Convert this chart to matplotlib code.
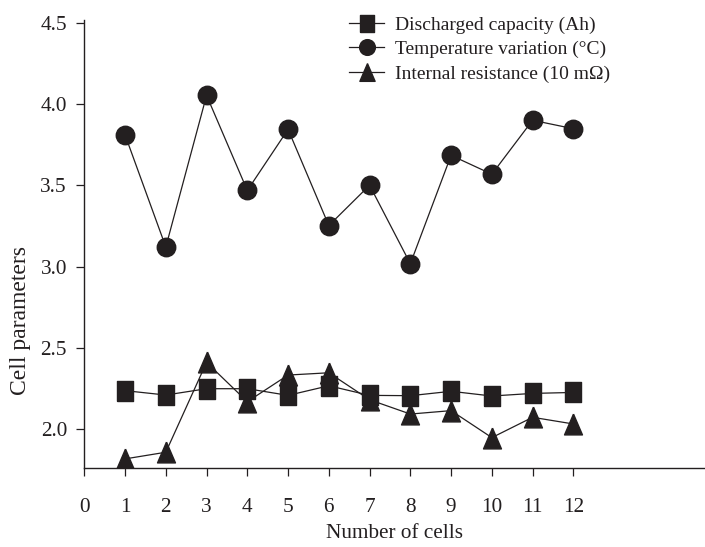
import matplotlib
matplotlib.use("Agg")
import matplotlib.pyplot as plt

# Cell index and measured parameters
cells = [1, 2, 3, 4, 5, 6, 7, 8, 9, 10, 11, 12]
capacity = [2.236, 2.209, 2.248, 2.248, 2.207, 2.266, 2.207, 2.205, 2.232, 2.203, 2.219, 2.225]
temperature = [3.81, 3.12, 4.053, 3.468, 3.844, 3.252, 3.50, 3.017, 3.684, 3.568, 3.90, 3.848]
resistance = [1.816, 1.857, 2.41, 2.168, 2.332, 2.346, 2.18, 2.092, 2.113, 1.947, 2.072, 2.031]

series_labels = ["Discharged capacity (Ah)",
                 "Temperature variation (\u00b0C)",
                 "Internal resistance (10 m\u03a9)"]
x_ticks = list(range(0, 13))
y_ticks = [2.0, 2.5, 3.0, 3.5, 4.0, 4.5]

ink = "#231f20"
plt.rcParams["font.family"] = ["Liberation Serif", "DejaVu Serif"]
plt.rcParams["font.size"] = 15.3

# slightly tall marker shapes
square = [(-0.8, -1), (0.8, -1), (0.8, 1), (-0.8, 1), (-0.8, -1)]
triangle = [(0, 1), (-0.86, -1), (0.86, -1), (0, 1)]

fig = plt.figure(figsize=(7.05, 5.47), dpi=100)
ax = fig.add_axes([84.3 / 705, 1 - 468 / 547, 1 - 84.3 / 705, (468 - 20) / 547])

line_kw = dict(color=ink, linewidth=0.9, markerfacecolor=ink, markeredgecolor=ink)
ax.plot(cells, capacity, marker=square, markersize=14.4, label=series_labels[0], **line_kw)
ax.plot(cells, temperature, marker="o", markersize=13.3, label=series_labels[1], **line_kw)
ax.plot(cells, resistance, marker=triangle, markersize=15.0, label=series_labels[2], **line_kw)

ax.set_xlim(0, 15.23)
ax.set_ylim(1.76, 4.517)
ax.set_xticks(x_ticks)
ax.set_xticklabels([str(t) for t in x_ticks])
ax.set_yticks(y_ticks)
ax.set_yticklabels([f"{t:.1f}" for t in y_ticks])

for side in ("top", "right"):
    ax.spines[side].set_visible(False)
for side in ("left", "bottom"):
    ax.spines[side].set_color(ink)
    ax.spines[side].set_linewidth(1.0)
ax.tick_params(axis="both", direction="out", length=5.5, width=0.9, colors=ink, labelcolor=ink)
ax.tick_params(axis="x", pad=16)
ax.tick_params(axis="y", pad=7)

ax.set_xlabel("Number of cells", color=ink)
ax.set_ylabel("Cell parameters", color=ink, fontsize=17)
ax.xaxis.set_label_coords(0.5, -0.125)
ax.yaxis.set_label_coords(-0.086, 0.33)

leg = ax.legend(loc="upper left", bbox_to_anchor=(349 / 705, 1 - 16 / 547),
                bbox_transform=fig.transFigure, frameon=False, fontsize=14.0,
                handlelength=1.8, handletextpad=0.55, labelspacing=0.36,
                borderaxespad=0, borderpad=0, markerscale=0.85)
for t in leg.get_texts():
    t.set_color(ink)

fig.savefig("out.png", dpi=100)
